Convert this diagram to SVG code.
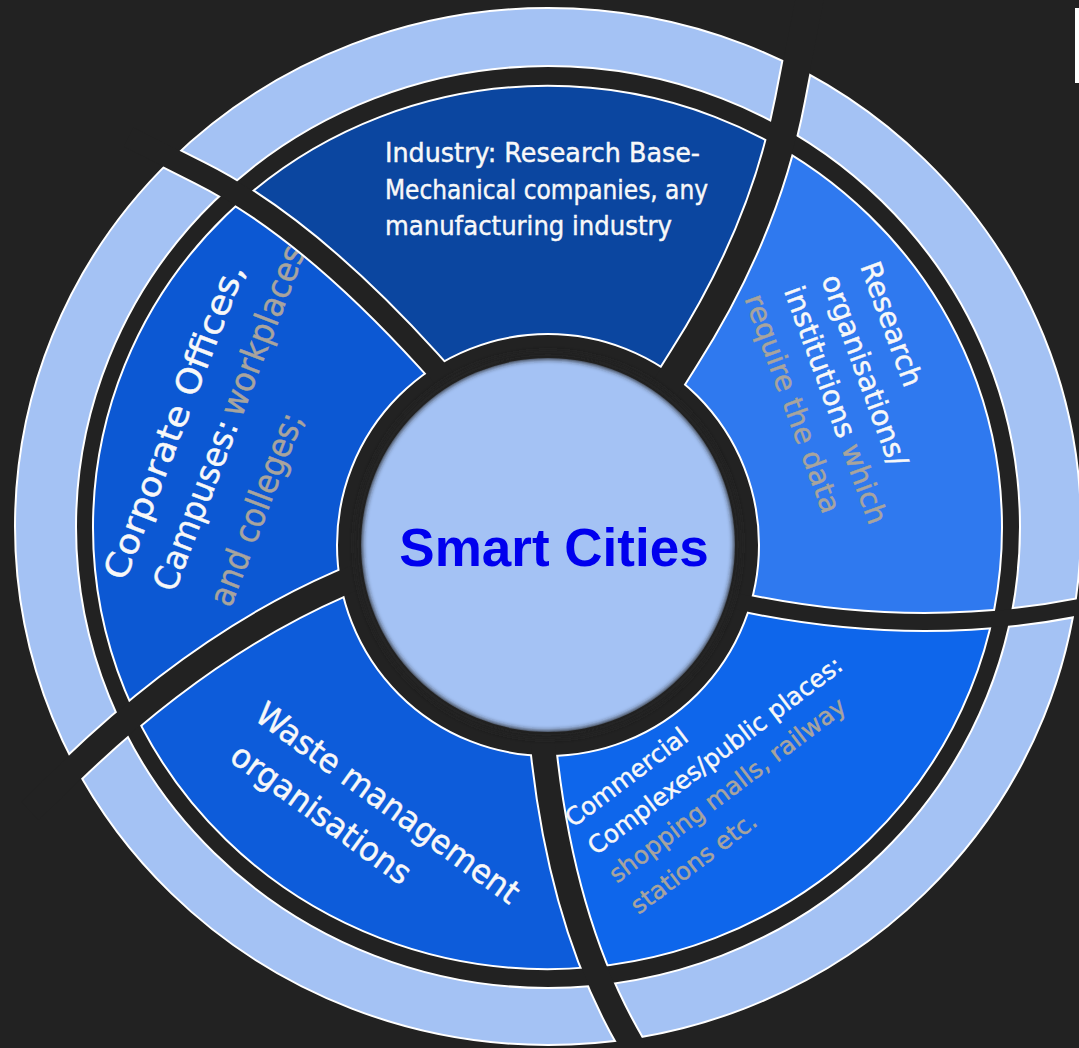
<svg xmlns="http://www.w3.org/2000/svg" width="1079" height="1048" viewBox="0 0 1079 1048">
  <style>
    .bg{fill:#222222}
    .ring{fill:#A4C2F4;stroke:#FFFFFF;stroke-width:2;fill-rule:evenodd}
    .edge{fill:none;stroke:#FFFFFF;stroke-width:2}
    .sep-w{fill:none;stroke:#FFFFFF;stroke-linecap:butt;stroke-linejoin:round}
    .sep-d{fill:none;stroke:#222222;stroke-linecap:butt;stroke-linejoin:round}
    .lbl{font-family:"DejaVu Sans","Liberation Sans",sans-serif;fill:#F8F8F8;stroke:#F8F8F8;stroke-width:0.45}
    .dim{fill:#A8A49D;stroke:#A8A49D}
    .title{font-family:"Liberation Sans",Arial,sans-serif;font-weight:bold;fill:#0000EE}
  </style>
  <defs>
    <!-- ring of the five segments -->
    <clipPath id="annulus">
      <path clip-rule="evenodd" d="M93,527.5 A454.5,441.5 0 1 0 1002,527.5 A454.5,441.5 0 1 0 93,527.5 Z M337,545 A211,211 0 1 0 759,545 A211,211 0 1 0 337,545 Z"/>
    </clipPath>
    <!-- everything that is coloured: outer band plus segment ring -->
    <clipPath id="bands">
      <path clip-rule="evenodd" d="M15,526.5 A533,518.5 0 1 0 1081,526.5 A533,518.5 0 1 0 15,526.5 Z M76,527 A472,461 0 1 0 1020,527 A472,461 0 1 0 76,527 Z M93,527.5 A454.5,441.5 0 1 0 1002,527.5 A454.5,441.5 0 1 0 93,527.5 Z M337,545 A211,211 0 1 0 759,545 A211,211 0 1 0 337,545 Z"/>
    </clipPath>
    <filter id="soft" x="-20%" y="-20%" width="140%" height="140%">
      <feGaussianBlur stdDeviation="2.5"/>
    </filter>
    <!-- curved dividers, inner end to outer end -->
    <path id="s1" d="M652,409 L684,358 Q765,231 790,100 L811,-8"/>
    <path id="s2" d="M691,591.5 L740,602 Q917.5,640 1085,606 L1124,598"/>
    <path id="s3" d="M537,685 L542,735 Q559.5,921 631,1043 L646,1069"/>
    <path id="s4" d="M377,568 L340,584 Q203.5,643.5 73,769 L30,811"/>
    <path id="s5" d="M455,390 L428,360 Q306.3,226.2 200,173 L128.5,137"/>
  </defs>

  <rect class="bg" x="0" y="0" width="1079" height="1048"/>
  <rect x="1075" y="8" width="4" height="75" fill="#FFFFFF"/>

  <!-- outer light band -->
  <g id="outer-band">
    <path class="ring" d="M15,526.5 A533,518.5 0 1 0 1081,526.5 A533,518.5 0 1 0 15,526.5 Z M76,527 A472,461 0 1 0 1020,527 A472,461 0 1 0 76,527 Z"/>
  </g>

  <g id="industry">
    <path clip-path="url(#annulus)" fill="#0B46A0" d="M455,390 L428,360 Q306.3,226.2 200,173 L128.5,137 L100,-60 L830,-60 L811,-8 L790,100 Q765,231 684,358 L652,409 Z"/>
    <text class="lbl" font-size="26" x="385" y="162" textLength="315" lengthAdjust="spacingAndGlyphs">Industry: Research Base-</text>
    <text class="lbl" font-size="26" x="385" y="199" textLength="323" lengthAdjust="spacingAndGlyphs">Mechanical companies, any</text>
    <text class="lbl" font-size="26" x="385" y="235" textLength="287" lengthAdjust="spacingAndGlyphs">manufacturing industry</text>
  </g>

  <g id="research">
    <path clip-path="url(#annulus)" fill="#2F79EF" d="M652,409 L684,358 Q765,231 790,100 L811,-8 L1150,-8 L1150,598 L1124,598 L1085,606 Q917.5,640 740,602 L691,591.5 Z"/>
    <text class="lbl" font-size="28.5" transform="translate(860,266) rotate(70)"><tspan x="0" y="0">Research</tspan><tspan x="-1" y="41">organisations/</tspan><tspan x="-3" y="80">institutions <tspan class="dim">which</tspan></tspan><tspan class="dim" x="-9" y="120">require the data</tspan></text>
  </g>

  <g id="commercial">
    <path clip-path="url(#annulus)" fill="#0E66EB" d="M691,591.5 L740,602 Q917.5,640 1085,606 L1124,598 L1150,598 L1150,1100 L646,1100 L646,1069 L631,1043 Q559.5,921 542,735 L537,685 Z"/>
    <text class="lbl" font-size="24.5" transform="translate(573,828) rotate(-37)"><tspan x="0" y="0">Commercial</tspan><tspan x="1.5" y="36">Complexes/public places:</tspan><tspan class="dim" x="1.5" y="71">shopping malls, railway</tspan><tspan class="dim" x="0" y="109">stations etc.</tspan></text>
  </g>

  <g id="waste">
    <path clip-path="url(#annulus)" fill="#0D5CDA" d="M537,685 L542,735 Q559.5,921 631,1043 L646,1069 L646,1100 L-60,1100 L-60,811 L30,811 L73,769 Q203.5,643.5 340,584 L377,568 Z"/>
    <g transform="translate(253,719) rotate(36)">
      <text class="lbl" font-size="33" x="0" y="0" textLength="317" lengthAdjust="spacingAndGlyphs">Waste management</text>
      <text class="lbl" font-size="33" x="4" y="48" textLength="214" lengthAdjust="spacingAndGlyphs">organisations</text>
    </g>
  </g>

  <g id="corporate">
    <path clip-path="url(#annulus)" fill="#0C58D3" d="M377,568 L340,584 Q203.5,643.5 73,769 L30,811 L-60,811 L-60,137 L128.5,137 L200,173 Q306.3,226.2 428,360 L455,390 Z"/>
    <g transform="translate(125,582) rotate(-69)">
      <text class="lbl" font-size="34" x="0" y="0" textLength="335" lengthAdjust="spacingAndGlyphs">Corporate Offices,</text>
      <text class="lbl" font-size="34" x="7" y="50" textLength="180" lengthAdjust="spacingAndGlyphs">Campuses:</text>
      <text class="lbl dim" font-size="34" x="194" y="50" textLength="180" lengthAdjust="spacingAndGlyphs">workplaces</text>
      <text class="lbl dim" font-size="34" x="13" y="108" textLength="204" lengthAdjust="spacingAndGlyphs">and colleges;</text>
    </g>
  </g>

  <!-- white rims of the segment ring -->
  <path class="edge" d="M93,527.5 A454.5,441.5 0 1 0 1002,527.5 A454.5,441.5 0 1 0 93,527.5 Z M337,545 A211,211 0 1 0 759,545 A211,211 0 1 0 337,545 Z"/>

  <!-- dividers: white rim first, dark band on top -->
  <g id="dividers">
    <g clip-path="url(#bands)">
      <use href="#s1" class="sep-w" stroke-width="32"/>
      <use href="#s2" class="sep-w" stroke-width="20"/>
      <use href="#s3" class="sep-w" stroke-width="28"/>
      <use href="#s4" class="sep-w" stroke-width="29"/>
      <use href="#s5" class="sep-w" stroke-width="25"/>
    </g>
    <use href="#s1" class="sep-d" stroke-width="28"/>
    <use href="#s2" class="sep-d" stroke-width="16"/>
    <use href="#s3" class="sep-d" stroke-width="24"/>
    <use href="#s4" class="sep-d" stroke-width="25"/>
    <use href="#s5" class="sep-d" stroke-width="21"/>
  </g>

  <g id="hub">
    <circle cx="548" cy="545" r="187" fill="#A4C2F4"/>
    <circle cx="548" cy="545" r="190" fill="none" stroke="#222222" stroke-width="8" filter="url(#soft)"/>
    <text class="title" x="554" y="566" font-size="53" text-anchor="middle">Smart Cities</text>
  </g>
</svg>
